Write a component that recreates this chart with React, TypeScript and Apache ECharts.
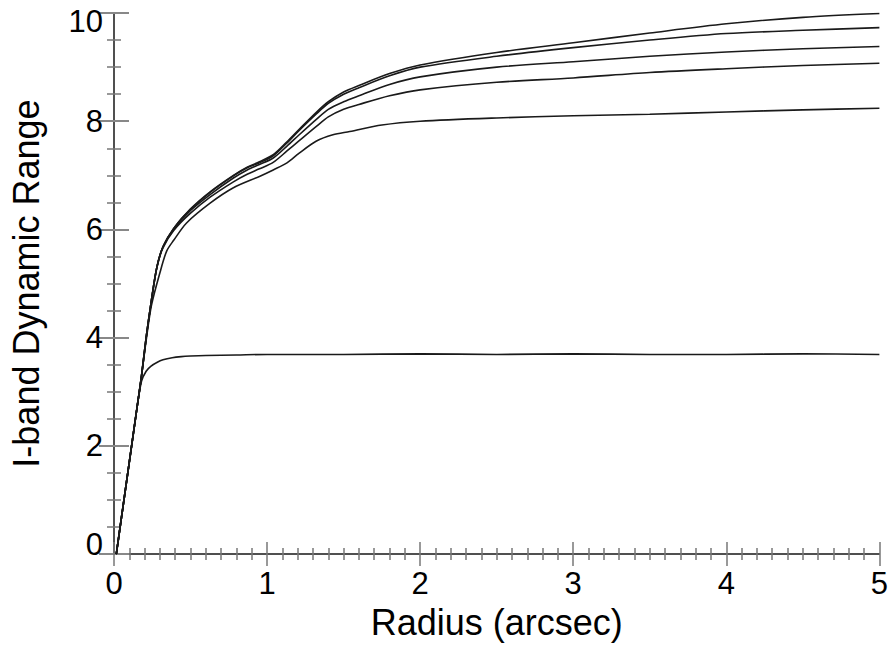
import React, { useEffect, useRef } from "react";
import * as echarts from "echarts";

// Radius (arcsec) samples and I-band dynamic range values
const xLow = [0.015, 0.05, 0.1, 0.15, 0.18, 0.21, 0.24, 0.28, 0.32, 0.38, 0.44, 0.5, 0.6, 0.8, 1.0, 1.5, 2.0, 2.5, 3.0, 3.5, 4.0, 4.5, 5.0];
const yLow = [0, 0.7, 1.7, 2.7, 3.2, 3.38, 3.47, 3.54, 3.59, 3.63, 3.65, 3.66, 3.67, 3.68, 3.69, 3.69, 3.7, 3.69, 3.7, 3.69, 3.69, 3.7, 3.69];

const xMid = [0.015, 0.05, 0.1, 0.15, 0.18, 0.21, 0.245, 0.3, 0.344, 0.39, 0.474, 0.63, 0.78, 0.95, 1.04, 1.13, 1.21, 1.32, 1.43, 1.54, 1.75, 2.0, 2.5, 3.0, 3.5, 4.0, 4.5, 5.0];
const yMid = [0, 0.7, 1.7, 2.7, 3.3, 3.95, 4.6, 5.2, 5.6, 5.8, 6.12, 6.49, 6.77, 6.98, 7.1, 7.23, 7.41, 7.63, 7.75, 7.81, 7.93, 8.0, 8.06, 8.1, 8.13, 8.17, 8.21, 8.24];

const xUp = [0.015, 0.05, 0.1, 0.15, 0.18, 0.21, 0.245, 0.28, 0.32, 0.39, 0.5, 0.63, 0.78, 0.87, 0.95, 1.04, 1.13, 1.21, 1.32, 1.4, 1.5, 1.6, 1.8, 2.0, 2.5, 3.0, 3.5, 4.0, 4.5, 5.0];
const yC3 = [0, 0.7, 1.7, 2.7, 3.3, 4.0, 4.7, 5.3, 5.66, 5.98, 6.3, 6.6, 6.88, 7.02, 7.12, 7.24, 7.45, 7.64, 7.9, 8.08, 8.22, 8.31, 8.47, 8.58, 8.72, 8.8, 8.9, 8.97, 9.03, 9.07];
const yC4 = [0, 0.7, 1.7, 2.7, 3.3, 4.0, 4.7, 5.3, 5.68, 6.0, 6.35, 6.65, 6.95, 7.1, 7.2, 7.32, 7.54, 7.75, 8.03, 8.22, 8.36, 8.47, 8.68, 8.82, 9.0, 9.1, 9.2, 9.28, 9.34, 9.38];
const yC5 = [0, 0.7, 1.7, 2.7, 3.3, 4.0, 4.7, 5.3, 5.68, 6.02, 6.37, 6.69, 6.99, 7.14, 7.23, 7.36, 7.6, 7.83, 8.13, 8.33, 8.5, 8.62, 8.84, 9.0, 9.2, 9.36, 9.5, 9.62, 9.68, 9.73];
const yC6 = [0, 0.7, 1.7, 2.7, 3.3, 4.0, 4.7, 5.3, 5.68, 6.02, 6.38, 6.7, 7.0, 7.15, 7.25, 7.38, 7.62, 7.85, 8.16, 8.36, 8.54, 8.66, 8.88, 9.04, 9.27, 9.45, 9.63, 9.8, 9.92, 9.99];

const xTicks = [0, 1, 2, 3, 4, 5];
const yTicks = [0, 2, 4, 6, 8, 10];

const FONT = "'Liberation Sans', Arial, Helvetica, sans-serif";

function pairs(xs: number[], ys: number[]) {
  return xs.map((x, i) => [x, ys[i]]);
}

export default function App() {
  const ref = useRef<HTMLDivElement>(null);
  useEffect(() => {
    if (!ref.current) return;
    const chart = echarts.init(ref.current, undefined, { renderer: "svg" });
    const axisLine = { show: true, lineStyle: { color: "#444", width: 1.5 } };
    const xCommon = {
      type: "value",
      min: xTicks[0],
      max: xTicks[xTicks.length - 1],
      interval: 1,
      axisLine,
      axisTick: { show: true, inside: true, length: 12, lineStyle: { color: "#777", width: 1.5 } },
      minorTick: { show: true, splitNumber: 10, length: 6, lineStyle: { color: "#777", width: 1.5 } },
      splitLine: { show: false },
      minorSplitLine: { show: false },
    };
    const yCommon = {
      type: "value",
      min: yTicks[0],
      max: yTicks[yTicks.length - 1],
      interval: 2,
      axisLine,
      axisTick: { show: true, inside: true, length: 15, lineStyle: { color: "#888", width: 2 } },
      minorTick: { show: true, splitNumber: 4, length: 7, lineStyle: { color: "#777", width: 1.5 } },
      splitLine: { show: false },
      minorSplitLine: { show: false },
    };
    const lineSeries = (data: number[][]) => ({
      type: "line",
      data,
      showSymbol: false,
      smooth: 0.3,
      lineStyle: { color: "#1a1a1a", width: 1.6 },
      clip: true,
    });
    chart.setOption({
      animation: false,
      backgroundColor: "#ffffff",
      grid: { left: 114, right: 11, top: 13, bottom: 88, containLabel: false },
      xAxis: [
        {
          ...xCommon,
          position: "bottom",
          name: "Radius (arcsec)",
          nameLocation: "middle",
          nameGap: 44,
          nameTextStyle: { fontFamily: FONT, fontSize: 36, color: "#000" },
          axisLabel: { show: true, margin: 14, fontFamily: FONT, fontSize: 31, color: "#000" },
        },
        { ...xCommon, position: "top", axisLabel: { show: false } },
      ],
      yAxis: [
        {
          ...yCommon,
          position: "left",
          name: "I-band Dynamic Range",
          nameLocation: "middle",
          nameGap: 70,
          nameTextStyle: { fontFamily: FONT, fontSize: 36, color: "#000" },
          axisLabel: {
            show: true,
            margin: 11,
            fontFamily: FONT,
            fontSize: 31,
            color: "#000",
            formatter: (v: number) => (v === 10 ? "{t|10}" : v === 0 ? "{b|0}" : String(v)),
            rich: {
              t: { fontFamily: FONT, fontSize: 31, color: "#000", padding: [16, 0, 0, 0] },
              b: { fontFamily: FONT, fontSize: 31, color: "#000", padding: [0, 0, 20, 0] },
            },
          },
        },
        { ...yCommon, position: "right", axisLabel: { show: false } },
      ],
      series: [
        lineSeries(pairs(xLow, yLow)),
        lineSeries(pairs(xMid, yMid)),
        lineSeries(pairs(xUp, yC3)),
        lineSeries(pairs(xUp, yC4)),
        lineSeries(pairs(xUp, yC5)),
        lineSeries(pairs(xUp, yC6)),
      ],
    });
    return () => chart.dispose();
  }, []);
  return <div ref={ref} style={{ width: 891, height: 645, position: "absolute", left: 0, top: 0 }} />;
}
